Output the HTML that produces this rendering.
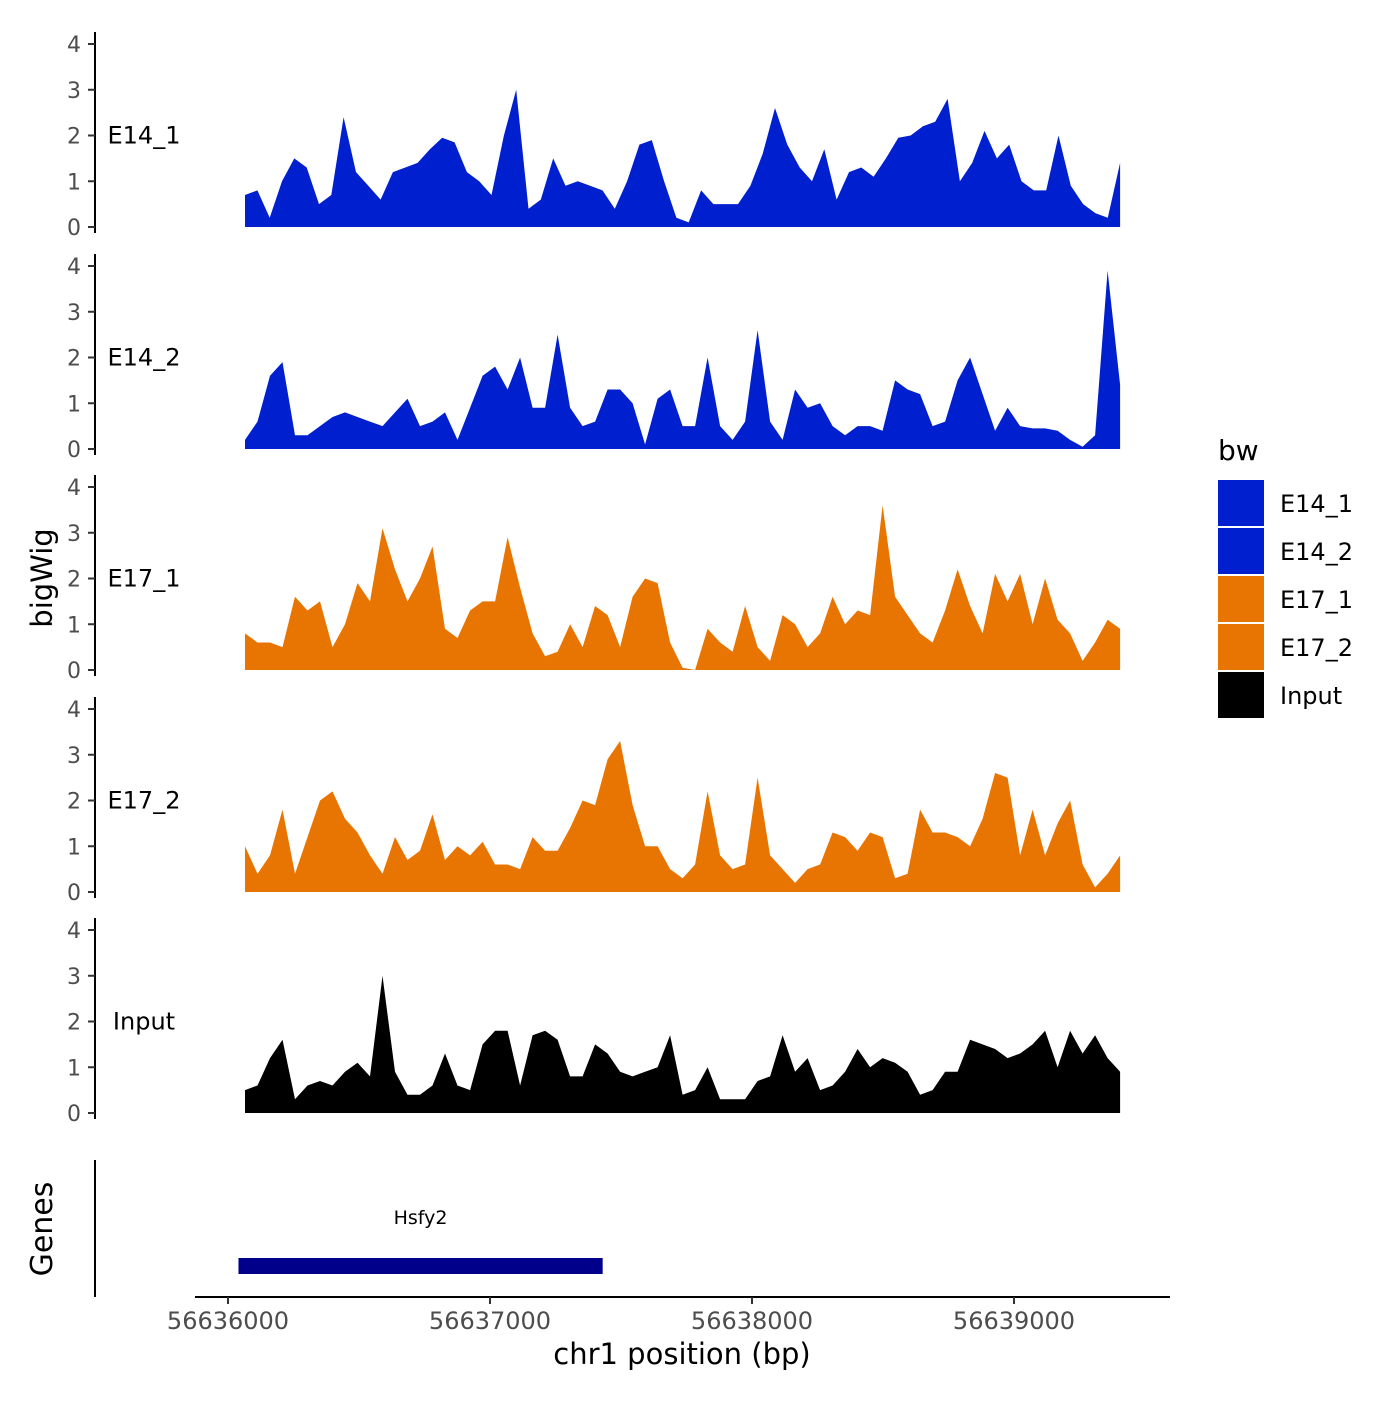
<!DOCTYPE html>
<html><head><meta charset="utf-8"><style>
html,body{margin:0;padding:0;background:#fff}
svg text{font-family:"DejaVu Sans","Liberation Sans",sans-serif}
</style></head><body>
<svg id="chart" width="1400" height="1400" viewBox="0 0 1400 1400" xmlns="http://www.w3.org/2000/svg">
<rect width="1400" height="1400" fill="#fff"/>
<g id="tracks"></g>
<g id="genes">
  <line x1="95" y1="1160" x2="95" y2="1297" stroke="#000" stroke-width="2"/>
  <line x1="195" y1="1297" x2="1170" y2="1297" stroke="#000" stroke-width="2"/>
  <text x="52" y="1229" font-size="30" text-anchor="middle" transform="rotate(-90 52 1229)">Genes</text>
  <rect id="geneBar" y="1258" height="16" fill="#00008B"/>
  <text id="geneLabel" y="1224" font-size="19" text-anchor="middle">Hsfy2</text>
</g>
<g id="xaxis"></g>
<text x="682" y="1364" font-size="29" text-anchor="middle">chr1 position (bp)</text>
<text x="52" y="578" font-size="29" text-anchor="middle" transform="rotate(-90 52 578)">bigWig</text>
<g id="legend">
  <text x="1218" y="460" font-size="28">bw</text>
</g>
</svg>
<script>
const trackNames = ["E14_1","E14_2","E17_1","E17_2","Input"];
const trackColors = ["#0020CF","#0020CF","#E87502","#E87502","#000000"];
const yTicks = [0,1,2,3,4];
const xTicks = [56636000,56637000,56638000,56639000];
const dataStart = 56636065, dataEnd = 56639405;
const geneStart = 56636040, geneEnd = 56637430;
const e14_1 = [0.7,0.8,0.2,1.0,1.5,1.3,0.5,0.7,2.4,1.2,0.9,0.6,1.2,1.3,1.4,1.7,1.95,1.85,1.2,1.0,0.7,2.0,3.0,0.4,0.6,1.5,0.9,1.0,0.9,0.8,0.4,1.0,1.8,1.9,1.0,0.2,0.1,0.8,0.5,0.5,0.5,0.9,1.6,2.6,1.8,1.3,1.0,1.7,0.6,1.2,1.3,1.1,1.5,1.95,2.0,2.2,2.3,2.8,1.0,1.4,2.1,1.5,1.8,1.0,0.8,0.8,2.0,0.9,0.5,0.3,0.2,1.4];
const e14_2 = [0.2,0.6,1.6,1.9,0.3,0.3,0.5,0.7,0.8,0.7,0.6,0.5,0.8,1.1,0.5,0.6,0.8,0.2,0.9,1.6,1.8,1.3,2.0,0.9,0.9,2.5,0.9,0.5,0.6,1.3,1.3,1.0,0.1,1.1,1.3,0.5,0.5,2.0,0.5,0.2,0.6,2.6,0.6,0.2,1.3,0.9,1.0,0.5,0.3,0.5,0.5,0.4,1.5,1.3,1.2,0.5,0.6,1.5,2.0,1.2,0.4,0.9,0.5,0.45,0.45,0.4,0.2,0.05,0.3,3.9,1.4];
const e17_1 = [0.8,0.6,0.6,0.5,1.6,1.3,1.5,0.5,1.0,1.9,1.5,3.1,2.2,1.5,2.0,2.7,0.9,0.7,1.3,1.5,1.5,2.9,1.8,0.8,0.3,0.4,1.0,0.5,1.4,1.2,0.5,1.6,2.0,1.9,0.6,0.05,0.0,0.9,0.6,0.4,1.4,0.5,0.2,1.2,1.0,0.5,0.8,1.6,1.0,1.3,1.2,3.6,1.6,1.2,0.8,0.6,1.3,2.2,1.4,0.8,2.1,1.5,2.1,1.0,2.0,1.1,0.8,0.2,0.6,1.1,0.9];
const e17_2 = [1.0,0.4,0.8,1.8,0.4,1.2,2.0,2.2,1.6,1.3,0.8,0.4,1.2,0.7,0.9,1.7,0.7,1.0,0.8,1.1,0.6,0.6,0.5,1.2,0.9,0.9,1.4,2.0,1.9,2.9,3.3,1.9,1.0,1.0,0.5,0.3,0.6,2.2,0.8,0.5,0.6,2.5,0.8,0.5,0.2,0.5,0.6,1.3,1.2,0.9,1.3,1.2,0.3,0.4,1.8,1.3,1.3,1.2,1.0,1.6,2.6,2.5,0.8,1.8,0.8,1.5,2.0,0.6,0.1,0.4,0.8];
const input = [0.5,0.6,1.2,1.6,0.3,0.6,0.7,0.6,0.9,1.1,0.8,3.0,0.9,0.4,0.4,0.6,1.3,0.6,0.5,1.5,1.8,1.8,0.6,1.7,1.8,1.6,0.8,0.8,1.5,1.3,0.9,0.8,0.9,1.0,1.7,0.4,0.5,1.0,0.3,0.3,0.3,0.7,0.8,1.7,0.9,1.2,0.5,0.6,0.9,1.4,1.0,1.2,1.1,0.9,0.4,0.5,0.9,0.9,1.6,1.5,1.4,1.2,1.3,1.5,1.8,1.0,1.8,1.3,1.7,1.2,0.9];
const series = [e14_1,e14_2,e17_1,e17_2,input];

const NS="http://www.w3.org/2000/svg";
function mk(tag, attrs){const e=document.createElementNS(NS,tag);for(const k in attrs)e.setAttribute(k,attrs[k]);return e;}
function xScale(bp){return 228 + (bp-56636000)*0.262;}
const trackBase = [227,449,670,892,1113];
const unit = 45.75;
function yScale(t,v){return trackBase[t]-v*unit;}

const tracks=document.getElementById('tracks');
series.forEach((vals,t)=>{
  const g=mk('g',{});
  
  
  const ax=mk('line',{x1:95,y1:yScale(t,4)-12,x2:95,y2:trackBase[t]+6,stroke:'#000','stroke-width':2});
  
  
  g.appendChild(ax);
  yTicks.forEach(v=>{
    const y=yScale(t,v);
    const tk=mk('line',{x1:88,y1:y,x2:95,y2:y,stroke:'#333','stroke-width':2});
    
    
    g.appendChild(tk);
    const tl=mk('text',{x:81,y:y+8,'font-size':22,'text-anchor':'end',fill:'#4d4d4d'});
    
    
    tl.textContent=v;g.appendChild(tl);
  });
  const lab=mk('text',{x:144,y:yScale(t,2)+8,'font-size':24,'text-anchor':'middle'});
  
  
  lab.textContent=trackNames[t];g.appendChild(lab);
  const n=vals.length;
  let d='M'+xScale(dataStart)+','+trackBase[t];
  vals.forEach((v,i)=>{const bp=dataStart+i*(dataEnd-dataStart)/(n-1);d+=' L'+xScale(bp).toFixed(1)+','+yScale(t,v).toFixed(1);});
  d+=' L'+xScale(dataEnd)+','+trackBase[t]+' Z';
  const p=mk('path',{d:d,fill:trackColors[t]});
  
  
  g.appendChild(p);
  tracks.appendChild(g);
});

const gb=document.getElementById('geneBar');
gb.setAttribute('x',xScale(geneStart));gb.setAttribute('width',xScale(geneEnd)-xScale(geneStart));
document.getElementById('geneLabel').setAttribute('x',(xScale(geneStart)+xScale(geneEnd))/2);

const xa=document.getElementById('xaxis');
xTicks.forEach(v=>{
  const x=xScale(v);
  const tk=mk('line',{x1:x,y1:1297,x2:x,y2:1304,stroke:'#333','stroke-width':2});
  
  
  xa.appendChild(tk);
  const tl=mk('text',{x:x,y:1329,'font-size':24,'text-anchor':'middle',fill:'#4d4d4d'});
  
  
  tl.textContent=v;xa.appendChild(tl);
});

const lg=document.getElementById('legend');
trackNames.forEach((nm,i)=>{
  const y=480+i*48;
  const r=mk('rect',{x:1218,y:y,width:46,height:46,fill:trackColors[i]});
  
  
  lg.appendChild(r);
  const t=mk('text',{x:1280,y:y+32,'font-size':24});
  
  
  t.textContent=nm;lg.appendChild(t);
});
</script>
</body></html>
